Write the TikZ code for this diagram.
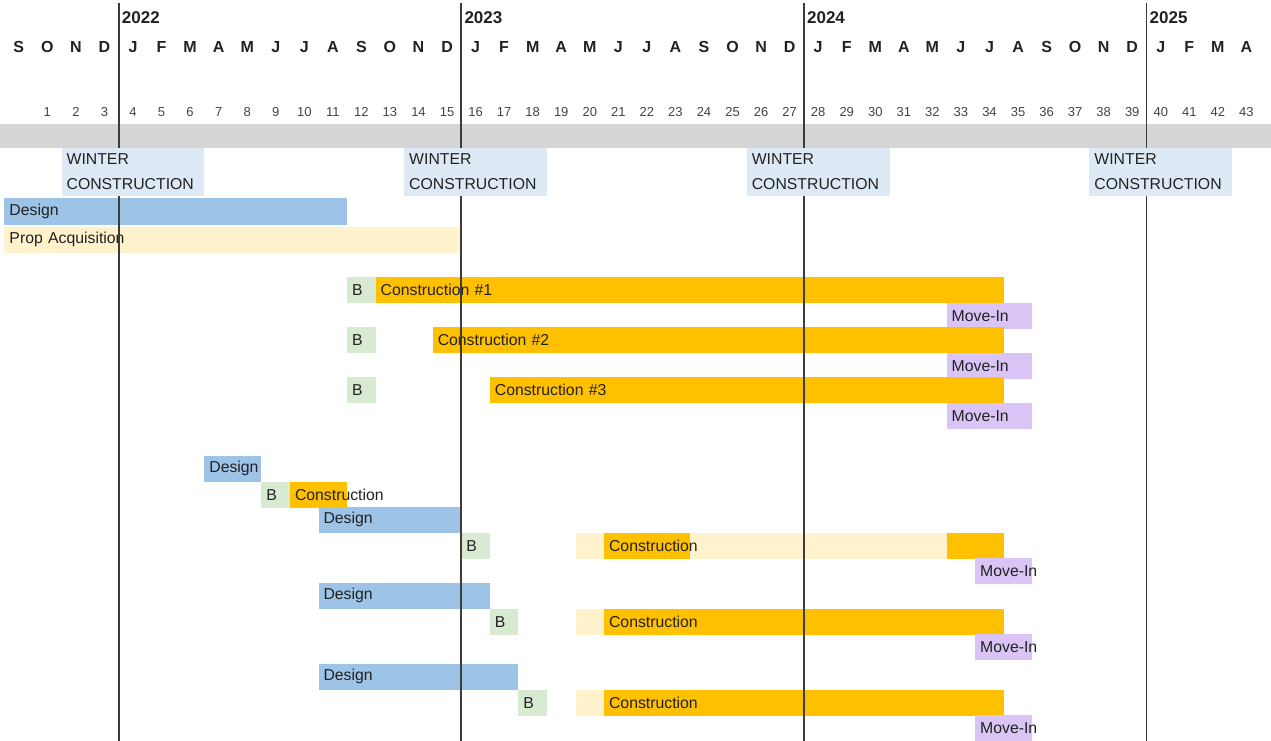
\documentclass[tikz,border=0pt]{standalone}
\usepackage{fontspec}
\setmainfont{Liberation Sans}
\usetikzlibrary{positioning}

\definecolor{designblue}{RGB}{157,195,230}
\definecolor{propyellow}{RGB}{255,242,204}
\definecolor{buildorange}{RGB}{255,192,0}
\definecolor{bidgreen}{RGB}{217,234,211}
\definecolor{movelilac}{RGB}{217,196,245}
\definecolor{winterblue}{RGB}{221,234,246}
\definecolor{bandgray}{RGB}{214,214,214}
\definecolor{linegray}{RGB}{60,60,60}
\definecolor{ink}{RGB}{34,34,34}

\newcommand\barfont{\fontsize{15.8}{18}\selectfont\hyphenpenalty=10000\exhyphenpenalty=10000}
\newcommand\winterfont{\fontsize{15.8}{25}\selectfont\hyphenpenalty=10000}
\newcommand\monthfont{\fontsize{16}{19}\selectfont\bfseries}
\newcommand\numfont{\fontsize{13}{15}\selectfont}
\newcommand\yearfont{\fontsize{17}{20}\selectfont\bfseries}

\begin{document}
\begin{tikzpicture}[x=28.55pt,y=-1pt,
	bar/.style={anchor=north west,minimum height=25.5pt,inner xsep=5pt,inner ysep=0pt,outer sep=0pt,
		text width=#1*28.55pt-10pt,align=left,font=\barfont,text=ink},
	design/.style={bar=#1,fill=designblue},
	prop/.style={bar=#1,fill=propyellow},
	build/.style={bar=#1,fill=buildorange},
	bid/.style={bar=1,fill=bidgreen},
	movein/.style={bar=#1,fill=movelilac},
	winter/.style={bar=5,minimum height=48pt,fill=winterblue,font=\winterfont},
	month/.style={font=\monthfont,text=ink},
	num/.style={font=\numfont,text=ink!85},
	year/.style={anchor=west,font=\yearfont,text=ink,inner xsep=3pt},
	yearline/.style={draw=linegray,line width=1.8pt}]
	\useasboundingbox (-4.5pt,0pt) rectangle (1266.5pt,-741pt);

	% months and numbers
	\foreach \m [count=\i from 0] in {S,O,N,D,J,F,M,A,M,J,J,A,S,O,N,D,J,F,M,A,M,J,J,A,S,O,N,D,J,F,M,A,M,J,J,A,S,O,N,D,J,F,M,A}
		\node[month] (m\i) at (\i+0.5,47) {\m};
	\foreach \n in {1,...,43}
		\node[num] (n\n) at (\n+0.5,112) {\n};
	\fill[bandgray] (-0.16,124) rectangle (44.4,148);
	\foreach \yr [count=\k from 0] in {2022,2023,2024,2025}{
		\pgfmathtruncatemacro\yc{4+12*\k}
		\coordinate (top\k) at (\yc,3);
		\coordinate (bot\k) at (\yc,741);
		\node[year] (y\yr) at (\yc,18) {\yr};
	}

	% whole site
	\node[design=12,minimum height=27pt] (des0) at (0,198) {Design};
	\node[prop=16] (prop0) at (0,227) {Prop Acquisition};

	% buildings 1-3
	\node[bid] (bid1) at (12,277) {B};
	\node[build=22] (con1) at (13,277) {Construction \#1};
	\node[movein=3] (mov1) at (33,303) {Move-In};
	\node[bid] (bid2) at (12,327) {B};
	\node[build=20] (con2) at (15,327) {Construction \#2};
	\node[movein=3] (mov2) at (33,353) {Move-In};
	\node[bid] (bid3) at (12,377) {B};
	\node[build=18] (con3) at (17,377) {Construction \#3};
	\node[movein=3] (mov3) at (33,403) {Move-In};

	% buildings 4-7
	\node[design=2] (des4) at (7,456) {Design};
	\node[bid] (bid4) at (9,482) {B};
	\node[build=2] (con4) at (10,482) {Construction};
	\node[design=5] (des5) at (11,507) {Design};
	\node[bid] (bid5) at (16,533) {B};
	\node[prop=13] (pre5) at (20,533) {};
	\node[build=3] (con5) at (21,533) {Construction};
	\node[build=2] (end5) at (33,533) {};
	\node[movein=2] (mov5) at (34,558) {Move-In};
	\node[design=6] (des6) at (11,583) {Design};
	\node[bid] (bid6) at (17,609) {B};
	\node[prop=1] (pre6) at (20,609) {};
	\node[build=14] (con6) at (21,609) {Construction};
	\node[movein=2] (mov6) at (34,634) {Move-In};
	\node[design=7] (des7) at (11,664) {Design};
	\node[bid] (bid7) at (18,690) {B};
	\node[prop=1] (pre7) at (20,690) {};
	\node[build=14] (con7) at (21,690) {Construction};
	\node[movein=2] (mov7) at (34,715) {Move-In};

	% year lines, winter on top
	\foreach \k in {0,...,3}
		\draw[yearline] (top\k) -- (bot\k);
	\foreach \w [count=\k from 0] in {2,14,26,38}
		\node[winter] (win\k) at (\w,148) {WINTER\\CONSTRUCTION};
\end{tikzpicture}
\end{document}
